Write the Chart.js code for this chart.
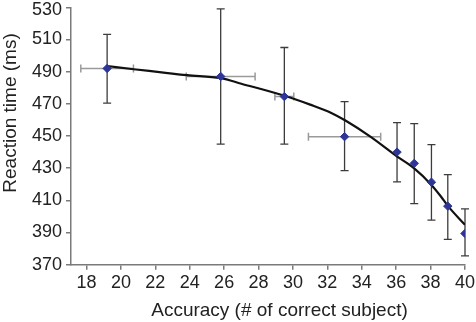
<!DOCTYPE html>
<html>
<head>
<meta charset="utf-8">
<script src="https://cdn.jsdelivr.net/npm/chart.js@4"></script>
<style>
html,body{margin:0;padding:0;background:#fff;}
#wrap{width:476px;height:322px;}
</style>
</head>
<body>
<div id="wrap"><canvas id="c" width="476" height="322"></canvas></div>
<script>
const accuracy = [19.2, 25.8, 29.5, 33.0, 36.05, 37.05, 38.05, 39.0, 40.0];
const reactionTime = [492, 487, 474.5, 449.6, 440, 433, 421.3, 406.4, 389.4];
const rtHigh = [513.2, 529, 505, 471.4, 458.3, 457.7, 444.7, 426, 404.7];
const rtLow = [470.4, 445, 445, 428.5, 421.5, 408, 397.7, 385.7, 375.5];
const accErr = [1.53, 2.0, 0.55, 2.1, 0, 0, 0, 0, 0];
const fitX = [19.2, 20.75, 22, 23.85, 25.8, 27, 29.5, 31, 32.2, 33.05, 34.5, 36.06, 37.03, 38.05, 38.6, 39.0, 40];
const fitY = [493.5, 491.5, 490, 487.8, 486, 482.5, 475, 469.5, 464.5, 459.6, 449.6, 437.2, 430, 419.6, 412.4, 406.6, 394.8];
const xTicks = [18, 20, 22, 24, 26, 28, 30, 32, 34, 36, 38, 40];
const yTicks = [370, 390, 410, 430, 450, 470, 490, 510, 530];
const xTitle = 'Accuracy (# of correct subject)';
const yTitle = 'Reaction time (ms)';

const FONT = '"Liberation Sans", Arial, sans-serif';

const errorBars = {
  id: 'errorBars',
  beforeDatasetsDraw(chart) {
    const ctx = chart.ctx, xs = chart.scales.x, ys = chart.scales.y;
    ctx.save();
    ctx.strokeStyle = '#9a9a9a';
    ctx.lineWidth = 1.5;
    for (let i = 0; i < accuracy.length; i++) {
      if (!accErr[i]) continue;
      const y = ys.getPixelForValue(reactionTime[i]);
      const x1 = xs.getPixelForValue(accuracy[i] - accErr[i]);
      const x2 = xs.getPixelForValue(accuracy[i] + accErr[i]);
      ctx.beginPath();
      ctx.moveTo(x1, y); ctx.lineTo(x2, y);
      ctx.moveTo(x1, y - 4); ctx.lineTo(x1, y + 4);
      ctx.moveTo(x2, y - 4); ctx.lineTo(x2, y + 4);
      ctx.stroke();
    }
    ctx.strokeStyle = '#3c3c3c';
    ctx.lineWidth = 1.3;
    for (let i = 0; i < accuracy.length; i++) {
      const x = xs.getPixelForValue(accuracy[i]);
      const y1 = ys.getPixelForValue(rtHigh[i]);
      const y2 = ys.getPixelForValue(rtLow[i]);
      ctx.beginPath();
      ctx.moveTo(x, y1); ctx.lineTo(x, y2);
      ctx.moveTo(x - 4, y1); ctx.lineTo(x + 4, y1);
      ctx.moveTo(x - 4, y2); ctx.lineTo(x + 4, y2);
      ctx.stroke();
    }
    ctx.restore();
  }
};

const axisTitles = {
  id: 'axisTitles',
  afterDraw(chart) {
    const ctx = chart.ctx;
    ctx.save();
    ctx.fillStyle = '#222';
    ctx.font = '19px ' + FONT;
    ctx.textAlign = 'center';
    ctx.textBaseline = 'middle';
    ctx.fillText(xTitle, 279.5, 311);
    ctx.translate(11, 113);
    ctx.rotate(-Math.PI / 2);
    ctx.fillText(yTitle, 0, 0);
    ctx.restore();
  }
};

function noPad(axis) {
  axis.paddingLeft = 0; axis.paddingRight = 0;
  axis.paddingTop = 0; axis.paddingBottom = 0;
}

const topTick = yTicks[yTicks.length - 1];

new Chart(document.getElementById('c'), {
  type: 'scatter',
  data: {
    datasets: [
      {
        label: 'fit',
        data: fitX.map((x, i) => ({x: x, y: fitY[i]})),
        showLine: true,
        borderColor: '#111',
        borderWidth: 2.2,
        pointRadius: 0,
        cubicInterpolationMode: 'monotone',
        order: 2
      },
      {
        label: 'data',
        data: accuracy.map((x, i) => ({x: x, y: reactionTime[i]})),
        pointStyle: 'rectRot',
        pointRadius: 4.2,
        backgroundColor: '#2d3596',
        borderColor: '#2d3596',
        borderWidth: 1,
        order: 1
      }
    ]
  },
  options: {
    responsive: false,
    animation: false,
    layout: {padding: {top: 7.3, right: 11, left: 0, bottom: 0}},
    plugins: {legend: {display: false}, tooltip: {enabled: false}},
    scales: {
      x: {
        type: 'linear',
        min: 17.1,
        max: 40,
        afterBuildTicks(axis) { axis.ticks = xTicks.map(v => ({value: v})); },
        afterFit(axis) { axis.height = 57.3; noPad(axis); },
        ticks: {color: '#222', font: {size: 18, family: FONT}, padding: 3, maxRotation: 0, autoSkip: false},
        grid: {drawOnChartArea: false, drawTicks: true, tickLength: 5, color: '#7a7a7a', lineWidth: 1.5},
        border: {display: true, color: '#7a7a7a', width: 1.5}
      },
      y: {
        type: 'linear',
        min: 370,
        max: 530,
        afterBuildTicks(axis) { axis.ticks = yTicks.map(v => ({value: v})); },
        afterFit(axis) { axis.width = 71; noPad(axis); },
        ticks: {
          color: '#222',
          padding: 4,
          font: (c) => (c.tick && c.tick.value === topTick)
            ? {size: 18, family: FONT, lineHeight: 0.33}
            : {size: 18, family: FONT},
          callback: (v) => v === topTick ? ['', String(v)] : String(v)
        },
        grid: {drawOnChartArea: false, drawTicks: true, tickLength: 5, color: '#7a7a7a', lineWidth: 1.5},
        border: {display: true, color: '#7a7a7a', width: 1.5}
      }
    }
  },
  plugins: [errorBars, axisTitles]
});
</script>
</body>
</html>
